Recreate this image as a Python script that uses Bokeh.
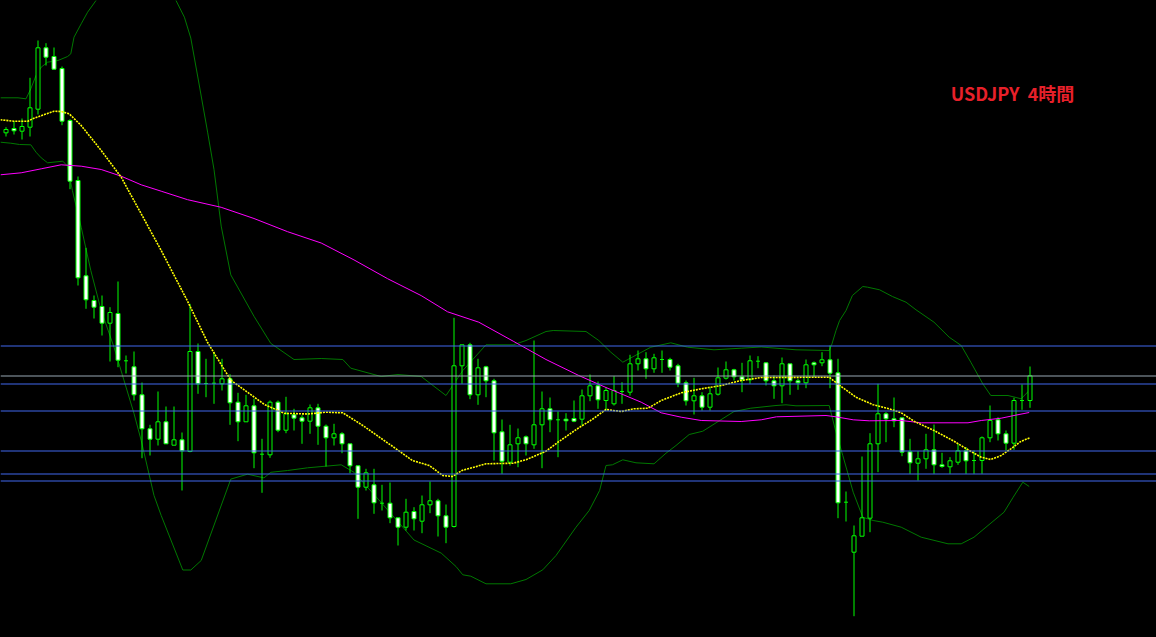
from bokeh.plotting import figure
from bokeh.models import Range1d, Span
from bokeh.core.properties import value
from bokeh.embed import file_html
from bokeh.resources import INLINE
import numpy as np

# ---- USDJPY 4H candles (chart scale: value grows downward) ----
open_ = [132.3, 128, 130.7, 126.7, 108.7, 47.3, 56, 68, 120, 180, 275.3, 300, 306, 322.7, 313, 360.3,
         366.3, 394.3, 428.3, 438.7, 421.3, 444.7, 439.3, 451, 351, 383, 382.7, 383.3, 378.3, 401.7, 421.3, 405.3,
         453.7, 454.3, 401.7, 429.7, 414.3, 417.3, 420.7, 407.3, 425.7, 437.3, 433.3, 443.3, 465.3, 486.7, 484.3, 502.7,
         502.7, 517.3, 526.7, 511, 520.7, 504.3, 500.3, 515.3, 526, 365.3, 344.3, 394.3, 366.3, 380.3, 431.3, 461.7,
         443.3, 436.3, 444.3, 424.3, 408.3, 419.3, 418.7, 418, 418.7, 395.3, 385.3, 400, 403.3, 391, 391.7, 363.3,
         358.3, 368.3, 359, 359, 365.3, 382.3, 400.3, 395.3, 406.7, 393.7, 377.7, 369.3, 376.3, 379.3, 360.7, 362.3,
         380.3, 385.3, 363.3, 380.3, 382.3, 362.3, 362.3, 359.3, 372.3, 501.7, 551.7, 535.7, 517.7, 443.3, 413.3, 418.3,
         417.3, 451.3, 462.7, 458.3, 449.3, 464.3, 466.3, 461.7, 450.3, 460, 460, 437.3, 419.3, 433.3, 442.7, 400,
         400]
high = [126.7, 120.7, 118, 77.3, 40, 42.7, 47, 66, 118.7, 176, 247.3, 295, 295, 306.7, 281, 355,
        351, 382, 424.3, 391, 406, 406, 432, 303.3, 343, 358.3, 351.5, 358.3, 373.7, 392.3, 394.3, 398.3,
        438.3, 400, 400, 396.3, 408.3, 414.7, 404, 403.3, 424, 423.3, 431.7, 443.3, 465, 468.3, 468.3, 484.3,
        482, 517.3, 498.3, 506.7, 495, 481, 498.3, 504, 317.3, 344.3, 342.3, 358.3, 365.3, 378.3, 419, 424.3,
        428, 435, 340, 391, 397, 411, 412.7, 400, 389, 374, 381, 386.7, 375.7, 381.7, 354.3, 350,
        351.7, 353.3, 350, 357.3, 363.3, 380, 377.3, 391.7, 386.7, 367, 361, 368.3, 362.3, 355, 355.7, 361.7,
        375, 357, 363.3, 378.3, 359, 361, 351.7, 345, 358.3, 491, 525, 456, 432.7, 383.3, 411.7, 397,
        417.3, 438.3, 450.7, 433.3, 424, 452.3, 456.7, 443.3, 446.7, 450, 436, 405, 416.7, 430, 397.3, 384,
        366]
low = [136, 134, 139, 136, 114, 65, 69.3, 124.7, 188.7, 285, 308.3, 318, 335, 361, 366.7, 373,
       400, 457.7, 455, 445, 443.3, 444.7, 490, 451.7, 393.3, 396.7, 403.3, 390, 424.3, 440.7, 421.3, 467.7,
       492.3, 457.3, 431.7, 432.7, 430, 443.3, 433.3, 444.3, 466, 445, 452.7, 472.7, 518.3, 490, 513.3, 510,
       522.7, 545, 530, 530, 532.7, 512.7, 536, 542.7, 527, 383.3, 398.7, 404.3, 396.7, 460, 473.3, 465,
       466.7, 455, 448.3, 467.7, 431.7, 456.7, 430, 421.7, 425, 400.7, 408.3, 410, 405, 403.3, 395, 370,
       378.3, 372.3, 372.3, 370, 386.7, 405, 414, 410, 410, 395, 379, 380, 391.7, 383.3, 367.7, 385,
       398.3, 402.7, 394.3, 389.3, 387.7, 376.7, 365.7, 387.7, 517.7, 521, 615.7, 535.7, 531.7, 471.7, 441.7, 426.7,
       455.7, 473.3, 480, 468.3, 473.3, 467.3, 473.3, 464.3, 473.3, 473.3, 473.3, 441.7, 440, 450, 449.3, 409.3,
       407.3]
close = [129, 130.3, 126, 107.3, 47.3, 56.7, 68.7, 120.7, 180.7, 277.3, 299.3, 306.7, 322.7, 312, 359.7, 360.3,
         394.3, 428.3, 438.7, 421.3, 443.3, 439.3, 450.3, 351, 383.3, 383, 382.7, 378.3, 402.3, 421.3, 405.3, 452.3,
         453.7, 401.7, 429.7, 413.3, 417.7, 420.7, 407.3, 425.7, 437.3, 433.3, 443.3, 465.3, 486.7, 472.3, 502.3, 502.7,
         517.3, 526.7, 511.7, 518.3, 504.3, 500.3, 515.3, 526.7, 365.3, 344.3, 394.3, 367.3, 380.3, 432.3, 460.7, 444.3,
         437.3, 443.3, 424.3, 408.3, 419.3, 419.3, 420.3, 420.7, 395.3, 385.3, 399.3, 390, 390, 391, 363.3, 358.3,
         368.3, 357.3, 359, 366.7, 382.7, 400.3, 395.3, 406.7, 393.3, 377.3, 369.3, 376.3, 379.3, 360.3, 360.7, 380.3,
         385.3, 363.3, 380.3, 382.3, 364.3, 364.3, 359.3, 372.7, 502.3, 501.7, 535.3, 517.3, 443.3, 413.3, 418.3, 420.3,
         451.7, 462.3, 458.3, 449.3, 464.3, 466, 460.3, 450.3, 460.3, 460, 437.3, 420, 433.3, 442.7, 400, 400,
         375.3]

# ---- indicators (bar position, value) ----
ma_fast_x = [-0.7, 1, 2.75, 3.3, 4.8, 6, 6.9, 7.9, 9.4, 11.9, 14.4, 16.9, 19.4, 22.7, 25.2, 28.1, 32.3, 34.8,
             37.7, 40, 42.1, 44.6, 48.75, 50.8, 52.9, 54.6, 55.8, 57, 60, 63.4, 65, 67.5, 69, 71.6, 73.4, 75,
             76.9, 78.5, 80.25, 81.9, 84.4, 86.9, 89.4, 91.9, 94.4, 102.9, 104.1, 106.25, 108.4, 110.4, 111.9,
             113.5, 116, 118.5, 120.25, 121.9, 123.1, 124.4, 125.6, 126.9, 128]
ma_fast_y = [119.3, 120.7, 120.7, 118.3, 114, 110.7, 111, 113.3, 125, 150, 176.7, 213.3, 250, 300.8, 342, 379.7,
             404, 412.8, 413.5, 411.7, 412.3, 425, 448.3, 460, 465, 475, 476, 470, 463.3, 462.7, 459.3, 450.7,
             441.7, 427.3, 418.3, 409, 411, 408.3, 407.7, 400, 392.3, 388.3, 385, 380, 377, 376.7, 384.3, 396.7,
             404.3, 408.3, 412.3, 420.7, 430, 440.7, 449.3, 456.7, 459, 455, 448.3, 440.7, 437.3]

ma_slow_x = [-0.7, 1.9, 4.4, 6.9, 9.4, 11.9, 14.4, 16.9, 19.4, 22.7, 26.9, 31, 35.2, 39.4, 43.5, 47.7, 51.9,
             55.2, 59.1, 63.4, 67.5, 71.6, 75, 79.4, 81.9, 84.4, 86.9, 91.9, 94.4, 96.3, 102.5, 103.75, 105.9,
             107.9, 111.9, 114.4, 120.25, 121.9, 124.4, 126, 127.9]
ma_slow_y = [174.3, 172.3, 168.3, 164.3, 165.7, 169, 175.7, 184.3, 190.7, 199.2, 206.8, 218, 231.2, 242.5,
             259.4, 278.2, 295.1, 311.3, 321.7, 340.7, 359, 375, 387, 401.7, 412.3, 416.7, 420, 421, 419.3,
             416.3, 415, 416.3, 419.3, 420.3, 420, 422.3, 422.3, 420, 417.7, 415, 412]

bb_up_x = [-0.7, 1.5, 2.5, 3.1, 3.75, 4.4, 5.2, 6.5, 7.7, 8.1, 8.5, 9.4, 10.2, 11.25, 13.1, 16.25, 19.4, 21.25,
           22.3, 23.1, 24.2, 25.2, 26, 26.9, 28.1, 31, 33.1, 36, 39.4, 42.1, 43.1, 46.9, 49, 51.9, 55, 57.1, 60,
           63.4, 65, 67.5, 68.4, 72.5, 74.1, 75.6, 77.1, 78.5, 80.6, 83.1, 85.2, 88.5, 91.9, 94.4, 98.75, 102.9,
           103.25, 103.75, 104.2, 105, 105.8, 107.1, 107.7, 109.2, 110.8, 112.5, 113.75, 116, 117.9, 119.4, 120.6,
           122.1, 123.1, 125.25, 126.9, 127.9]
bb_up_y = [97.3, 97.3, 98.3, 88.3, 75, 66.7, 61.7, 60, 56, 53.3, 36.7, 23.3, 11.7, 0, -25, -40, -25, 0,
           16.7, 37.6, 86.5, 131.6, 169, 225.6, 274.4, 315.8, 342.9, 359, 358, 359, 367.7, 376, 374, 376, 395, 370,
           344.3, 344.3, 340, 331, 330, 331, 340, 351.7, 361.7, 355.7, 346.7, 342.3, 346.7, 349.3, 347.7, 346.5,
           349.3, 350, 343.3, 330, 320, 310, 295, 286, 286.7, 289.3, 296, 301.7, 309.3, 321.7, 336.7, 345, 361.7,
           383.3, 395, 395, 398.3, 390]

bb_lo_x = [-0.7, 0.6, 1.7, 3.1, 3.75, 4.4, 5.2, 7.1, 7.7, 8.3, 9.4, 10.6, 11.9, 13.5, 16, 16.9, 18.5, 19.4,
           22.1, 23.1, 24.4, 28.1, 30.2, 32.25, 33.1, 35.2, 37.7, 41.9, 43.5, 46.9, 51, 54.4, 56.25, 57.1, 58.1,
           60, 63.1, 65, 67.1, 68.75, 71.25, 72.9, 74.2, 75, 75.8, 77.1, 78.75, 81, 82.5, 83.75, 85.4, 87.1, 91,
           93.1, 96.25, 97.5, 98.75, 102.9, 103.75, 104.6, 105.9, 107.1, 108.4, 109.6, 111.9, 114.4, 117.75,
           119.4, 121, 122.75, 124.75, 125.9, 127.1, 127.9]
bb_lo_y = [141.7, 142.7, 144, 144.3, 151.7, 157.3, 162.3, 160.7, 165.7, 190, 226.7, 270, 310, 346.7, 413, 440,
           495, 515, 569.5, 569.5, 560, 478.6, 473.7, 477.4, 471.8, 470, 467.3, 464.3, 471.8, 502, 539.5, 552.6,
           566, 574.3, 575.7, 583.3, 583.3, 579, 569.3, 555, 526.7, 510, 490, 465, 464.3, 459.3, 462.3, 463.3,
           452.7, 445, 434, 430.7, 411, 407.7, 405, 404.3, 405.3, 405, 431.7, 455, 491.7, 516.7, 520, 521.7,
           526.7, 536.7, 543.3, 543.3, 536.7, 525, 511.7, 496.7, 481.7, 486]

blue_levels = [345.5, 383.5, 410.5, 450.5, 473.5, 480.5]
gray_levels = [375.5]

title_text = "USDJPY\u00a0\u00a04時間"

LIME = "#00ff00"
W, H = 1156, 637

p = figure(width=W, height=H, output_backend="svg", toolbar_location=None,
           x_range=Range1d(-5.5 / 8, (W - 5.5) / 8), y_range=Range1d(H, 0),
           min_border=0, min_border_left=0, min_border_right=0, min_border_top=0, min_border_bottom=0,
           background_fill_color="black", border_fill_color="black", outline_line_color=None)
p.axis.visible = False
p.grid.visible = False

for lv in blue_levels:
    p.add_layout(Span(location=lv, dimension="width", line_color="#4169ee", line_width=1))
for lv in gray_levels:
    p.add_layout(Span(location=lv, dimension="width", line_color="#98a8b4", line_width=1))

# Bollinger bands
p.line(bb_up_x, bb_up_y, line_color="#007800", line_width=1)
p.line(bb_lo_x, bb_lo_y, line_color="#007800", line_width=1)

# candles
o = np.array(open_); h = np.array(high); l = np.array(low); c = np.array(close)
idx = np.arange(len(o))
bull = c < o
bear = c > o
doji = c == o
p.segment(idx, h, idx, l, line_color=LIME, line_width=1)
p.vbar(x=idx[bear], top=o[bear], bottom=c[bear], width=0.5, fill_color="white", line_color=LIME, line_width=1)
p.vbar(x=idx[bull], top=c[bull], bottom=o[bull], width=0.5, fill_color="black", line_color=LIME, line_width=1)
p.segment(idx[doji] - 0.25, o[doji], idx[doji] + 0.25, o[doji], line_color=LIME, line_width=1)

# moving averages
p.line(ma_slow_x, ma_slow_y, line_color="#ff00ff", line_width=1)
p.line(ma_fast_x, ma_fast_y, line_color="#ffff00", line_width=1.6, line_dash="2 1")

p.text(x=[118.1], y=[92], text=[title_text], text_color="#e8202a", text_font=value("Noto Sans CJK JP"),
       text_font_style="bold", text_font_size="18px", text_align="left", text_baseline="middle")

html = file_html(p, INLINE)
html = html.replace("</head>", "<style>html,body{margin:0;padding:0;background:#000;overflow:hidden;}</style></head>", 1)
open("out.html", "w").write(html)
